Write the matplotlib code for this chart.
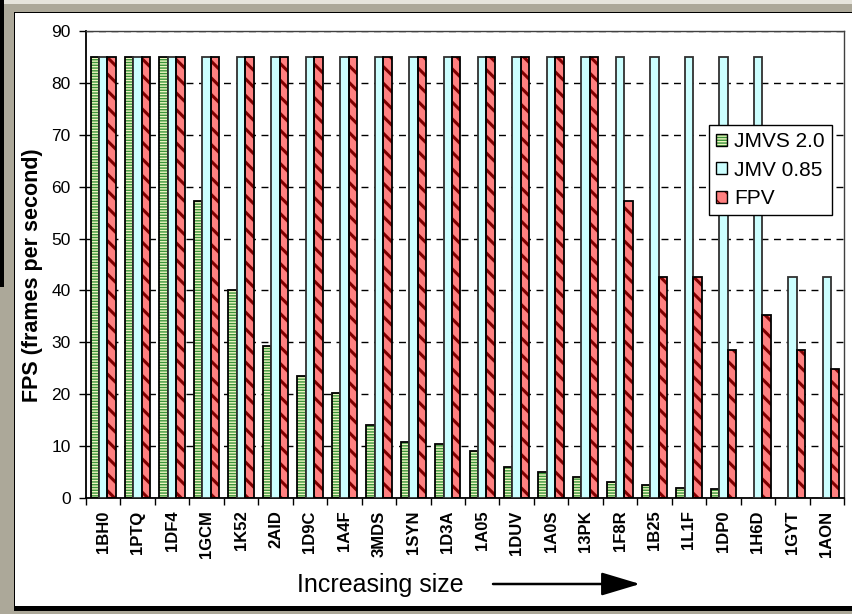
import matplotlib
matplotlib.use('Agg')
import matplotlib.pyplot as plt
from matplotlib.patches import Rectangle, FancyArrowPatch, Patch
from matplotlib.legend_handler import HandlerTuple
import numpy as np

# ---------------- data ----------------
categories = ['1BH0', '1PTQ', '1DF4', '1GCM', '1K52', '2AID', '1D9C', '1A4F',
              '3MDS', '1SYN', '1D3A', '1A05', '1DUV', '1A0S', '13PK', '1F8R',
              '1B25', '1L1F', '1DP0', '1H6D', '1GYT', '1AON']
jmvs_20 = [85, 85, 85, 57.2, 40.0, 29.3, 23.6, 20.2, 14.0, 10.8, 10.5, 9.0,
           6.0, 5.0, 4.0, 3.0, 2.6, 2.0, 1.7, None, None, None]
jmv_085 = [85, 85, 85, 85, 85, 85, 85, 85, 85, 85, 85, 85, 85, 85, 85, 85,
           85, 85, 85, 85, 42.5, 42.5]
fpv = [85, 85, 85, 85, 85, 85, 85, 85, 85, 85, 85, 85, 85, 85, 85, 57.2,
       42.5, 42.5, 28.5, 35.2, 28.5, 24.9]
series_names = ['JMVS 2.0', 'JMV 0.85', 'FPV']
y_ticks = list(range(0, 100, 10))
x_title = 'Increasing size'
y_title = 'FPS (frames per second)'

plt.rcParams['font.family'] = ['Liberation Sans', 'DejaVu Sans']

W, H = 852, 614
fig = plt.figure(figsize=(W / 100, H / 100), dpi=100, facecolor='#ACA899')


def fx(px):
    return px / W


def fy(py):
    return 1 - py / H


# ---------------- window-like background ----------------
def frect(x0, y0, x1, y1, color, z=-10):
    fig.add_artist(Rectangle((fx(x0), fy(y1)), fx(x1) - fx(x0), fy(y0) - fy(y1),
                             transform=fig.transFigure, facecolor=color,
                             edgecolor='none', zorder=z))


frect(0, 0, 852, 4, '#E6E4DC')
frect(0, 0, 4, 287, '#000000', z=-9.5)
frect(14, 12, 852, 611, '#000000')
frect(15, 13, 852, 606, '#FFFFFF', z=-9)

# ---------------- axes ----------------
ax = fig.add_axes([fx(86), fy(498), fx(844) - fx(86), fy(31) - fy(498)])
ax.set_facecolor('white')

n = len(categories)
x = np.arange(n)
w = 0.245

GREEN_FACE = '#EEF6C0'
GREEN_HATCH = '#3A943A'
CYAN = '#CCFFFF'
RED_FACE = '#FF8080'
RED_HATCH = '#800000'


def hatched_bars(vals, off, face, hcolor, hatch, hlw):
    idx = [i for i, v in enumerate(vals) if v is not None]
    xs = x[idx] + off
    hs = [vals[i] for i in idx]
    with plt.rc_context({'hatch.linewidth': hlw}):
        ax.bar(xs, hs, w, facecolor=face, edgecolor=hcolor, hatch=hatch,
               linewidth=0, zorder=2)
    ax.bar(xs, hs, w, facecolor='none', edgecolor='black', linewidth=1.3, zorder=3)


hatched_bars(jmvs_20, -w, GREEN_FACE, GREEN_HATCH, '------', 1.0)
ax.bar(x, jmv_085, w, facecolor=CYAN, edgecolor='#303030', linewidth=1.3, zorder=3)
hatched_bars(fpv, w, RED_FACE, RED_HATCH, '\\\\', 2.2)

ax.set_xlim(-0.5, n - 0.5)
ax.set_ylim(0, 90)
ax.set_yticks(y_ticks)
ax.set_xticks(x)
ax.set_xticklabels(categories, rotation=90, fontweight='bold', fontsize=12,
                   va='top', ha='center')
ax.set_xticks(np.arange(n + 1) - 0.5, minor=True)
ax.tick_params(axis='x', which='major', length=0, pad=9)
ax.tick_params(axis='x', which='minor', length=5, width=1, direction='out')
ax.tick_params(axis='y', length=5, width=1, labelsize=12.5, pad=6)

ax.yaxis.grid(True, color='black', linestyle=(0, (5, 4)), linewidth=1.0)
ax.set_axisbelow(True)

for s in ['left', 'bottom']:
    ax.spines[s].set_color('black')
    ax.spines[s].set_linewidth(1.3)
for s in ['top', 'right']:
    ax.spines[s].set_color('#404040')
    ax.spines[s].set_linewidth(1.0)

# ---------------- legend ----------------
with plt.rc_context({'hatch.linewidth': 1.0}):
    h1 = (Patch(facecolor=GREEN_FACE, edgecolor=GREEN_HATCH, hatch='------', linewidth=0),
          Patch(facecolor='none', edgecolor='black', linewidth=1.0))
with plt.rc_context({'hatch.linewidth': 1.6}):
    h3 = (Patch(facecolor=RED_FACE, edgecolor=RED_HATCH, hatch='\\\\', linewidth=0),
          Patch(facecolor='none', edgecolor='black', linewidth=1.0))
h2 = Patch(facecolor=CYAN, edgecolor='black', linewidth=1.0)
leg = ax.legend([h1, h2, h3], series_names,
                handler_map={tuple: HandlerTuple(ndivide=1, pad=0)},
                loc='upper left', bbox_to_anchor=(fx(709), fy(125)),
                bbox_transform=fig.transFigure, frameon=True, fancybox=False,
                edgecolor='black', framealpha=1, fontsize=15,
                handlelength=0.5, handleheight=0.5, handletextpad=0.35,
                labelspacing=0.45, borderpad=0.35, borderaxespad=0)
leg.get_frame().set_linewidth(1.0)
leg.set_zorder(10)

# ---------------- titles ----------------
fig.text(fx(33), fy(275), y_title, rotation=90, ha='center', va='center',
         fontsize=15.5, fontweight='bold')
fig.text(fx(380), fy(585), x_title, ha='center', va='center', fontsize=18)
fig.add_artist(FancyArrowPatch((fx(493), fy(584)), (fx(640), fy(584)),
                               transform=fig.transFigure,
                               arrowstyle='-|>,head_length=2.0,head_width=0.6',
                               mutation_scale=12, linewidth=1.8, color='black',
                               shrinkA=0, shrinkB=0))

fig.savefig('out.png', dpi=100, facecolor=fig.get_facecolor())
